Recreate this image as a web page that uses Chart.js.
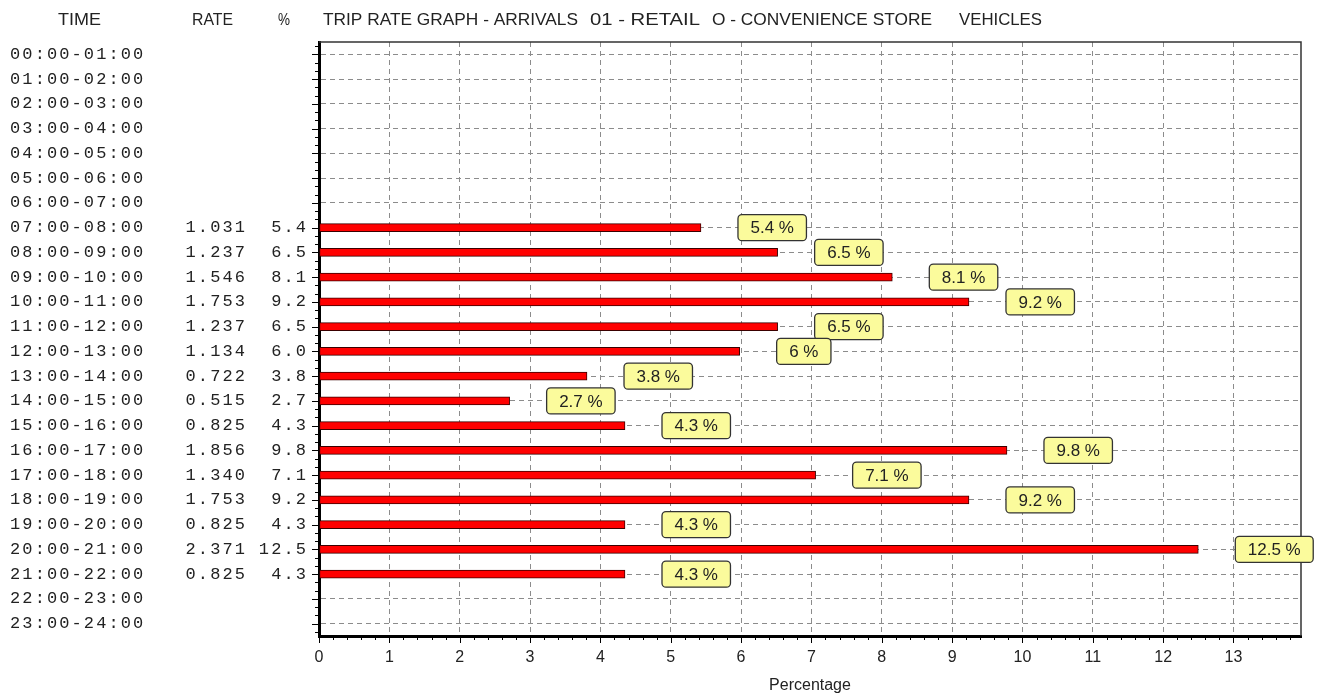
<!DOCTYPE html>
<html>
<head>
<meta charset="utf-8">
<title>Trip rate graph - arrivals</title>
<script src="https://cdn.jsdelivr.net/npm/chart.js@4.4.1/dist/chart.umd.min.js"></script>
<style>
  html, body { margin: 0; padding: 0; background: #fff; }
  #tripChart { display: block; }
</style>
</head>
<body>
<canvas id="tripChart" width="1323" height="700"></canvas>
<script>
// Row labels and table columns (as printed in the left table)
const timeSlots = [
    "00:00-01:00", "01:00-02:00", "02:00-03:00", "03:00-04:00", "04:00-05:00", "05:00-06:00",
    "06:00-07:00", "07:00-08:00", "08:00-09:00", "09:00-10:00", "10:00-11:00", "11:00-12:00",
    "12:00-13:00", "13:00-14:00", "14:00-15:00", "15:00-16:00", "16:00-17:00", "17:00-18:00",
    "18:00-19:00", "19:00-20:00", "20:00-21:00", "21:00-22:00", "22:00-23:00", "23:00-24:00"
];
const rateText = [
    "", "", "", "", "", "", "", "1.031", "1.237", "1.546", "1.753", "1.237",
    "1.134", "0.722", "0.515", "0.825", "1.856", "1.340", "1.753", "0.825", "2.371", "0.825", "", ""
];
const pctText = [
    "", "", "", "", "", "", "", "5.4", "6.5", "8.1", "9.2", "6.5",
    "6.0", "3.8", "2.7", "4.3", "9.8", "7.1", "9.2", "4.3", "12.5", "4.3", "", ""
];
// Bar lengths (percent)
const barValues = [
    null, null, null, null, null, null, null, 5.43, 6.52, 8.15, 9.24, 6.52,
    5.98, 3.81, 2.71, 4.35, 9.78, 7.06, 9.24, 4.35, 12.50, 4.35, null, null
];
// Percentage axis tick values
const xTickValues = [0, 1, 2, 3, 4, 5, 6, 7, 8, 9, 10, 11, 12, 13];
const headerParts = ["TRIP RATE GRAPH - ARRIVALS", "01 - RETAIL", "O - CONVENIENCE STORE", "VEHICLES"];
const columnHeads = ["TIME", "RATE", "%"];
const axisTitle = "Percentage";

const CELL = 12.3;       // monospaced cell width of the table
const INK = "#222";

// draw a string one character per fixed cell
function monoText(ctx, text, x, y, alignRight) {
    const start = alignRight ? x - text.length * CELL : x;
    for (let k = 0; k < text.length; k++) {
        ctx.fillText(text[k], start + (k + 0.5) * CELL, y);
    }
}

// draw text squeezed to a given width (narrow header font)
function fitText(ctx, text, left, right, y) {
    const w = ctx.measureText(text).width;
    ctx.save();
    ctx.translate(left, y);
    ctx.scale((right - left) / w, 1);
    ctx.fillText(text, 0, 0);
    ctx.restore();
}

const tripTable = {
    id: "tripTable",
    afterDraw(chart) {
        const { ctx, chartArea: area, scales: { x, y } } = chart;
        ctx.save();

        // thin frame on top and right
        ctx.strokeStyle = "#333";
        ctx.lineWidth = 1.5;
        ctx.beginPath();
        ctx.moveTo(area.left, area.top);
        ctx.lineTo(area.right, area.top);
        ctx.lineTo(area.right, area.bottom);
        ctx.stroke();

        // tick marks on both axes
        ctx.strokeStyle = "#000";
        ctx.lineWidth = 1;
        ctx.beginPath();
        for (let k = 0; k / 5 <= x.max; k++) {
            const px = Math.round(x.getPixelForValue(k / 5)) + 0.5;
            const len = k % 5 === 0 ? 7 : 4;
            ctx.moveTo(px, area.bottom + 1);
            ctx.lineTo(px, area.bottom + len);
        }
        const step = y.getPixelForValue(1) - y.getPixelForValue(0);
        timeSlots.forEach((t, i) => {
            const c = y.getPixelForValue(i);
            [-1, 0, 1].forEach(j => {
                const py = Math.round(c + j * step / 3) + 0.5;
                const len = j === 0 ? 7 : 4;
                ctx.moveTo(area.left - 1, py);
                ctx.lineTo(area.left - len, py);
            });
        });
        ctx.stroke();

        // left table
        ctx.fillStyle = INK;
        ctx.textBaseline = "middle";
        ctx.textAlign = "center";
        ctx.font = "17px 'Liberation Mono'";
        timeSlots.forEach((t, i) => {
            const py = y.getPixelForValue(i);
            monoText(ctx, t, 9, py, false);
            if (rateText[i]) monoText(ctx, rateText[i], 246, py, true);
            if (pctText[i]) monoText(ctx, pctText[i], 307, py, true);
        });

        // header line
        ctx.textAlign = "left";
        ctx.font = "17px 'Liberation Sans'";
        fitText(ctx, columnHeads[0], 58, 101, 20);
        fitText(ctx, columnHeads[1], 192, 233, 20);
        fitText(ctx, columnHeads[2], 278, 290, 20);
        fitText(ctx, headerParts[0], 323, 578, 20);
        fitText(ctx, headerParts[1], 590, 700, 20);
        fitText(ctx, headerParts[2], 712, 932, 20);
        fitText(ctx, headerParts[3], 959, 1042, 20);

        // value callouts
        const meta = chart.getDatasetMeta(0);
        ctx.font = "17px 'Liberation Sans'";
        ctx.textAlign = "center";
        meta.data.forEach((bar, i) => {
            if (barValues[i] == null) return;
            const label = parseFloat(pctText[i]) + " %";
            const w = ctx.measureText(label).width + 25;
            const h = 26;
            const left = bar.x + 37;
            const top = bar.y - h / 2;
            ctx.beginPath();
            ctx.roundRect(left, top, w, h, 4);
            ctx.fillStyle = "#fbfb9c";
            ctx.fill();
            ctx.strokeStyle = "#333";
            ctx.lineWidth = 1.3;
            ctx.stroke();
            ctx.fillStyle = INK;
            ctx.fillText(label, left + w / 2, bar.y + 1);
        });

        ctx.restore();
    }
};

const axisFont = { family: "Liberation Sans", size: 16 };

new Chart(document.getElementById("tripChart"), {
    type: "bar",
    data: {
        labels: timeSlots,
        datasets: [{
            data: barValues,
            backgroundColor: "#ff0000",
            borderColor: "#3a0000",
            borderWidth: 1,
            borderSkipped: false,
            barThickness: 8
        }]
    },
    options: {
        indexAxis: "y",
        responsive: false,
        animation: false,
        events: [],
        layout: { padding: { left: 319, right: 22, top: 42, bottom: 0 } },
        plugins: {
            legend: { display: false },
            tooltip: { enabled: false }
        },
        scales: {
            x: {
                type: "linear",
                min: 0,
                max: 13.96,
                afterBuildTicks: s => { s.ticks = xTickValues.map(v => ({ value: v })); },
                afterFit: s => { s.height = 64; },
                ticks: { padding: 12, color: INK, font: axisFont },
                grid: { color: "#8c8c8c", lineWidth: 1, drawTicks: false },
                border: { color: "#000", width: 3, dash: [5, 4] },
                title: {
                    display: true,
                    text: axisTitle,
                    color: INK,
                    font: axisFont,
                    padding: { top: 0, bottom: 5 }
                }
            },
            y: {
                type: "category",
                offset: true,
                afterFit: s => { s.width = 0; },
                ticks: { display: false },
                grid: { offset: false, color: "#8c8c8c", lineWidth: 1, drawTicks: false },
                border: { color: "#000", width: 3, dash: [5, 4] }
            }
        }
    },
    plugins: [tripTable]
});
</script>
</body>
</html>
